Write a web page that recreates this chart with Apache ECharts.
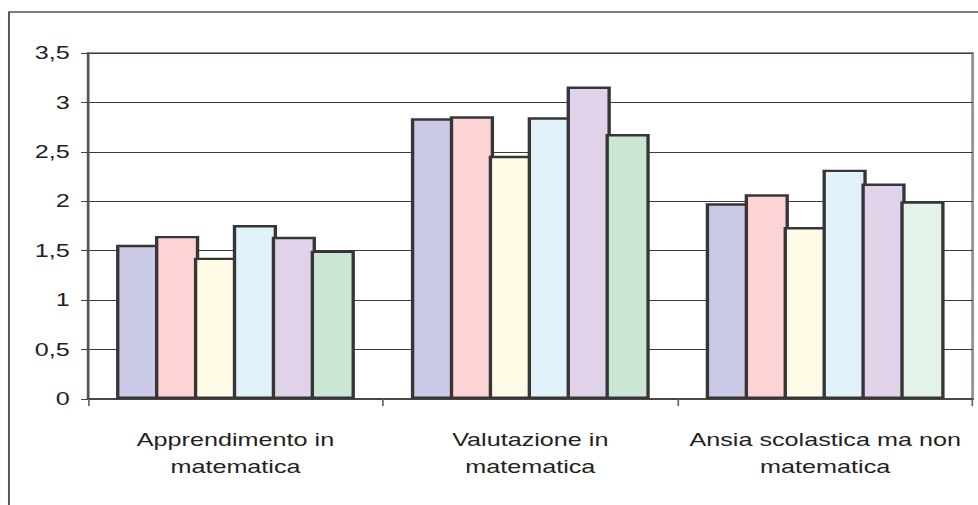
<!DOCTYPE html>
<html>
<head>
<meta charset="utf-8">
<script src="https://cdn.jsdelivr.net/npm/echarts@6/dist/echarts.min.js"></script>
<style>
  html, body { margin: 0; padding: 0; background: #ffffff; overflow: hidden; }
  #wrap { width: 978px; height: 505px; overflow: hidden; position: relative; }
  /* chart is laid out narrower and widened horizontally, giving the broad lettering */
  #chart { position: absolute; left: 0; top: 0; width: 698.6px; height: 505px; transform: scaleX(1.4); transform-origin: 0 0; }
</style>
</head>
<body>
<div id="wrap"><div id="chart"></div></div>
<script>
// Categories on the x axis
const categories = ['Apprendimento in\nmatematica', 'Valutazione in\nmatematica', 'Ansia scolastica ma non\nmatematica'];

// Six groups, one value per category
const gruppo1 = [1.56, 2.84, 1.98];
const gruppo2 = [1.65, 2.86, 2.07];
const gruppo3 = [1.43, 2.46, 1.74];
const gruppo4 = [1.76, 2.85, 2.32];
const gruppo5 = [1.64, 3.16, 2.18];
const gruppo6 = [1.50, 2.68, 2.00];

// Value axis ticks
const yTicks = [0, 0.5, 1, 1.5, 2, 2.5, 3, 3.5];

const groups = [gruppo1, gruppo2, gruppo3, gruppo4, gruppo5, gruppo6];
const fills = ['#cbcae6', '#fdd3d6', '#fffbe6', '#e2f2fb', '#e0d2e8', '#cbe6d4'];

const chart = echarts.init(document.getElementById('chart'), null, { renderer: 'svg' });

// bars sit side by side; the negative gap lets neighbouring outlines share one edge
const series = groups.map((vals, i) => ({
  name: 'Gruppo ' + (i + 1),
  type: 'bar',
  barGap: '-12%',
  barCategoryGap: '19%',
  data: vals.map((v, j) => {
    const item = { value: v };
    if (i === 5 && j === 2) item.itemStyle = { color: '#e4f3e9' };
    return item;
  }),
  itemStyle: { color: fills[i], borderColor: '#363636', borderWidth: 2.4 },
  emphasis: { disabled: true }
}));

chart.setOption({
  animation: false,
  backgroundColor: '#ffffff',
  graphic: [{
    type: 'rect',
    shape: { x: 6.4, y: 12, width: 800, height: 600 },
    style: { fill: 'none', stroke: '#555555', lineWidth: 1.4 },
    silent: true,
    z: 0
  }],
  grid: {
    left: 62.9, right: 4.3, top: 53, bottom: 106,
    show: true, backgroundColor: 'transparent', borderColor: '#9b918c', borderWidth: 2
  },
  xAxis: {
    type: 'category',
    data: categories,
    axisLine: { lineStyle: { color: '#4a4545', width: 2 } },
    axisTick: { show: true, length: 7, interval: 0, lineStyle: { color: '#6a6262', width: 1.2 } },
    axisLabel: {
      interval: 0, margin: 27, color: '#222222', fontFamily: 'Liberation Sans, Arial, sans-serif',
      fontSize: 18, lineHeight: 27
    },
    splitLine: { show: false }
  },
  yAxis: {
    type: 'value',
    min: yTicks[0], max: yTicks[yTicks.length - 1], interval: 0.5,
    axisLine: { show: true, lineStyle: { color: '#5a5252', width: 1.6 } },
    axisTick: { show: true, length: 5, lineStyle: { color: '#444444', width: 1 } },
    axisLabel: {
      margin: 13, color: '#222222', fontFamily: 'Liberation Sans, Arial, sans-serif', fontSize: 18,
      formatter: v => String(v).replace('.', ',')
    },
    splitLine: { show: true, lineStyle: { color: '#3a3a3a', width: 1 } }
  },
  series: series
});
</script>
</body>
</html>
